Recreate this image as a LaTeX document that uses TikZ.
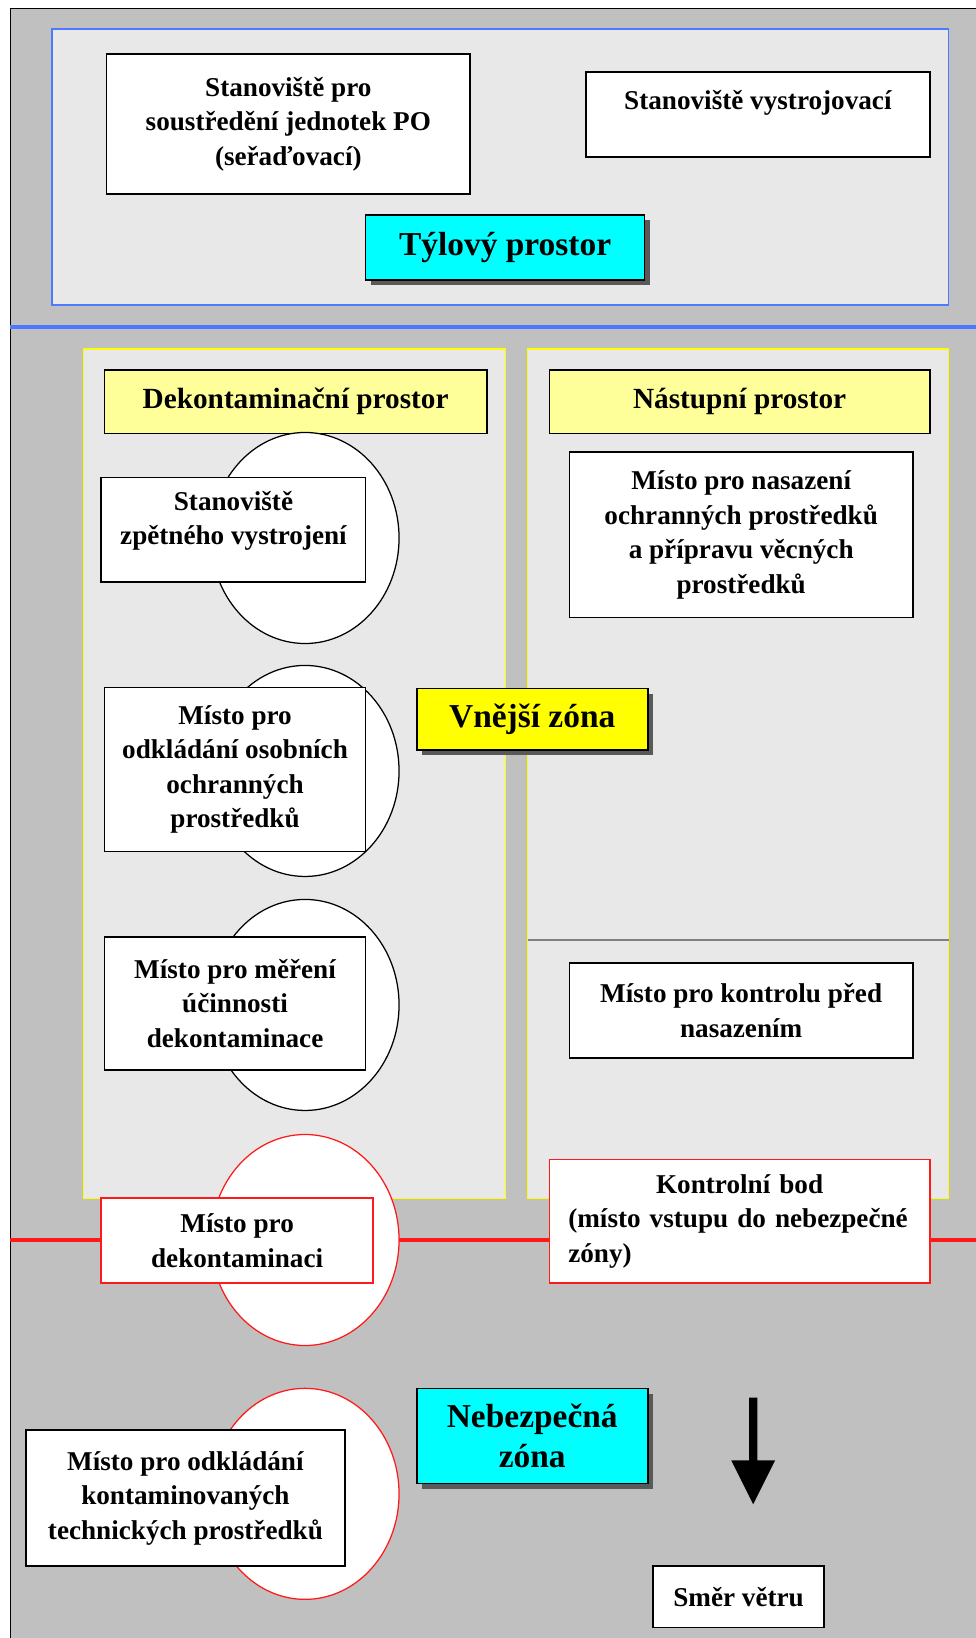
\documentclass[tikz,border=0pt]{standalone}
\usepackage{fontspec}
\setmainfont{Liberation Serif}
\usetikzlibrary{positioning}
\usetikzlibrary{shapes.geometric}
\usetikzlibrary{shadows}
\definecolor{color-back}{RGB}{192,192,192}
\definecolor{color-panel}{RGB}{232,232,232}
\definecolor{color-blue}{RGB}{77,121,255}
\definecolor{color-red}{RGB}{255,25,25}
\definecolor{color-yellow}{RGB}{255,255,0}
\definecolor{color-lightyellow}{RGB}{255,255,153}
\definecolor{color-cyan}{RGB}{0,255,255}

\begin{document}
\begin{tikzpicture}[x=0.5pt, y=-0.5pt,
box/.style={draw, line width=0.8pt, fill=white, align=center, inner sep=2pt, font=\bfseries\fontsize{13}{16.5}\selectfont},
redbox/.style={box, draw=color-red},
title/.style={box, fill=color-lightyellow, font=\bfseries\fontsize{14}{17}\selectfont},
zone/.style={box, font=\bfseries\fontsize{16}{19}\selectfont, drop shadow={shadow xshift=2.5pt, shadow yshift=-2.5pt, fill=black!65, opacity=1}},
oval/.style={ellipse, draw, line width=0.6pt, fill=white, minimum width=90pt, minimum height=101pt, inner sep=0pt},
panel/.style={draw=color-yellow, line width=0.6pt, fill=color-panel}]

\useasboundingbox (0,0) rectangle (934,1568);
\fill[color-back] (10,8) rectangle (934,1568);
\draw[line width=0.8pt] (10,1568) -- (10,8) -- (934,8);

%% tylovy prostor
\draw[color-blue, line width=0.8pt, fill=color-panel] (50,28) rectangle (908,292);
\node [box, minimum width=174pt, minimum height=67pt] (sero) at (276,119) {Stanoviště pro\\soustředění jednotek PO\\(seřaďovací)};
\node [box, minimum width=164.5pt, minimum height=40.5pt] (vystroj) at (725.5,109.5) {Stanoviště vystrojovací\\[-8pt] \strut};
\node [zone, fill=color-cyan, minimum width=133.5pt, minimum height=31pt] (tyl) at (483.5,237) {Týlový prostor};

\draw[color-blue, line width=2pt] (10,313) -- (934,313);

%% vnejsi zona
\draw[panel] (80,334) rectangle (484,1147);
\draw[panel] (505,334) rectangle (908,1147);
\draw[black!50, line width=1pt] (505,900) -- (908,900);

\node [title, minimum width=183pt, minimum height=30.5pt] (dekon) at (283,384.5) {Dekontaminační prostor};
\node [title, minimum width=182pt, minimum height=30.5pt] (nastup) at (708,384.5) {Nástupní prostor};

\node [oval] (ov1) at (292,515) {};
\node [oval] (ov2) at (292,738) {};
\node [oval] (ov3) at (292,962) {};

\node [box, minimum width=126.5pt, minimum height=50pt] (zpet) at (223.5,507) {Stanoviště\\zpětného vystrojení\\[-10pt] \strut};
\node [box, minimum width=164.5pt, minimum height=79pt] (nasaz) at (709.5,512) {Místo pro nasazení\\ochranných prostředků\\a přípravu věcných\\prostředků};
\node [box, minimum width=125pt, minimum height=78.5pt] (osob) at (225,736.5) {Místo pro\\odkládání osobních\\ochranných\\prostředků};
\node [zone, fill=color-yellow, minimum width=110.5pt, minimum height=29.5pt] (vnejsi) at (509.5,688.5) {Vnější zóna};
\node [box, minimum width=125pt, minimum height=63.5pt] (mereni) at (225,960.5) {Místo pro měření\\účinnosti\\dekontaminace};
\node [box, minimum width=164.5pt, minimum height=45.5pt] (kontrola) at (709.5,967.5) {Místo pro kontrolu před\\nasazením};

%% hranice nebezpecne zony
\draw[color-red, line width=2pt] (10,1187) -- (934,1187);

\node [oval, draw=color-red] (ov4) at (292,1187) {};
\node [redbox, minimum width=130pt, minimum height=40.5pt] (dekontam) at (227,1187.5) {Místo pro\\dekontaminaci};
\node [redbox, align=left, text width=164pt, inner xsep=9pt, inner ysep=2pt, minimum height=59pt] (kontrbod) at (708,1169) {\makebox[164pt][c]{Kontrolní bod}\\\mbox{(místo vstupu do nebezpečné}\\zóny)};

%% nebezpecna zona
\node [oval, draw=color-red] (ov5) at (292,1430) {};
\node [box, minimum width=152.5pt, minimum height=65pt] (techn) at (177.5,1434) {Místo pro odkládání\\kontaminovaných\\technických prostředků};
\node [zone, fill=color-cyan, minimum width=110.5pt, minimum height=45.5pt] (nebez) at (509.5,1374.5) {Nebezpečná\\zóna};

\fill (717,1338) -- (725,1338) -- (725,1398) -- (742,1398) -- (721,1440) -- (700,1398) -- (717,1398) -- cycle;
\node [box, minimum width=82pt, minimum height=29.5pt] (smer) at (707,1528.5) {Směr větru};

\end{tikzpicture}
\end{document}
